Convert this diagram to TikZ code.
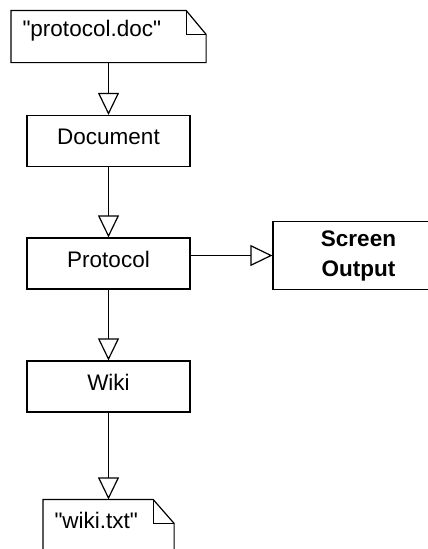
\documentclass[tikz,border=0pt]{standalone}
\usepackage{fontspec}
\setmainfont{Liberation Sans}[Ligatures=TeXOff]
\usetikzlibrary{arrows.meta}
\tikzset{
  box/.style={draw, minimum width=163pt, minimum height=51pt, inner sep=0pt, text height=15pt, text depth=8pt},
  docnote/.style={inner xsep=11pt, inner ysep=0pt, text height=8pt, text depth=8pt, align=left, minimum height=51pt},
  flow/.style={-{Triangle[open, length=22pt, width=21pt]}}
}
\begin{document}
\begin{tikzpicture}[x=1pt, y=-1pt, line width=1.2pt, every node/.style={font=\fontsize{22.5}{30}\selectfont}]
\useasboundingbox (0,0) rectangle (428,549);
\clip (0,0) rectangle (428,549);
\node[docnote, text width=172pt] (pdoc) at (108.5,36.5) {"protocol.doc"};
\draw (pdoc.south west) -- (pdoc.north west) -- ([xshift=-20pt]pdoc.north east) -- ([yshift=-24pt]pdoc.north east) -- (pdoc.south east) -- cycle;
\draw ([xshift=-20pt]pdoc.north east) |- ([yshift=-24pt]pdoc.north east);
\node[box] (doc) at (108.5,141) {Document};
\node[box] (prot) at (108.5,263.5) {Protocol};
\node[box] (wiki) at (108.5,386.5) {Wiki};
\node[box, minimum width=171pt, minimum height=68pt, align=center, text height=, text depth=, font=\bfseries\fontsize{22.5}{30}\selectfont] (scr) at (358.5,255.5) {Screen\\Output};
\node[docnote, text width=108pt, minimum height=56pt] (wtxt) at (108.5,528) {"wiki.txt"};
\draw (wtxt.south west) -- (wtxt.north west) -- ([xshift=-21pt]wtxt.north east) -- ([yshift=-24pt]wtxt.north east) -- (wtxt.south east);
\draw ([xshift=-21pt]wtxt.north east) |- ([yshift=-24pt]wtxt.north east);
\draw[flow] (pdoc) -- (doc);
\draw[flow] (doc) -- (prot);
\draw[flow] (prot.east |- scr.west) -- (scr.west);
\draw[flow] (prot) -- (wiki);
\draw[flow] (wiki) -- (wtxt);
\end{tikzpicture}
\end{document}
